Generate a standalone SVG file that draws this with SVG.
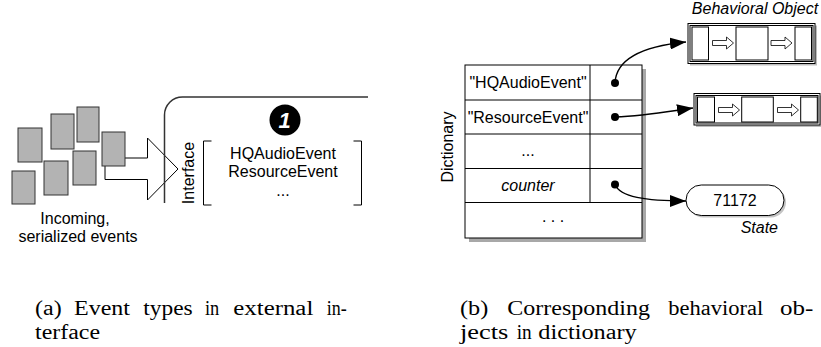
<svg xmlns="http://www.w3.org/2000/svg" width="821" height="347" viewBox="0 0 821 347">
<style>
text{font-family:"Liberation Sans",Arial,sans-serif;font-size:16px;fill:#000}
.it{font-style:italic}
.mid{text-anchor:middle}
.end{text-anchor:end}
.cap{font-family:"Liberation Serif","Times New Roman",serif;font-size:20.5px}
.ev{fill:#b3b3b3;stroke:#333;stroke-width:1}
.ln{fill:none;stroke:#000;stroke-width:1}
.cell{fill:#fff;stroke:#000;stroke-width:1}
.shadow{fill:#a8a8a8}
.soft{fill:#bdbdbd}
.conn{fill:none;stroke:#000;stroke-width:1.3}
.dot{fill:#000}
</style>
<defs>
<marker id="ah" markerUnits="userSpaceOnUse" markerWidth="17" markerHeight="12" refX="16" refY="6" orient="auto">
<path d="M0,0 L16,6 L0,12 z" fill="#000"/>
</marker>
<path id="hollow" d="M0,-2.5 H14 V-6 L21,0 L14,6 V2.5 H0 Z" fill="#fff" stroke="#000" stroke-width="0.8"/>
</defs>

<!-- (a) incoming serialized events -->
<g id="events">
<rect class="ev" x="18" y="128" width="24" height="34"/>
<rect class="ev" x="12" y="171" width="23" height="33"/>
<rect class="ev" x="51" y="114" width="23" height="35"/>
<rect class="ev" x="77" y="107" width="22" height="35"/>
<rect class="ev" x="44" y="161" width="24" height="34"/>
<rect class="ev" x="73" y="151" width="23" height="34"/>
<path d="M105,158 H147.5 V138 L178,169 L147.5,200 V179.5 H105 Z" fill="#fff" stroke="#000" stroke-width="1"/>
<rect class="ev" x="102" y="132" width="23" height="34"/>
<text class="mid" x="75" y="224">Incoming,</text>
<text class="mid" x="78" y="242">serialized events</text>
</g>

<!-- (a) component with its external interface -->
<g id="interface">
<path d="M164.5,203 V115 A18,18 0 0 1 182.5,97 H368" fill="none" stroke="#333" stroke-width="1.5"/>
<text class="mid" transform="translate(194,173) rotate(-90)">Interface</text>
<path class="ln" d="M211.5,141 H203.5 V205 H211.5 M353.5,141 H361.5 V205 H353.5" stroke-width="1.4"/>
<circle cx="285" cy="120" r="15.5" fill="#000"/>
<text class="mid" x="284.5" y="128" style="fill:#fff;font-weight:bold;font-style:italic;font-size:22px">1</text>
<text class="mid" x="283" y="159">HQAudioEvent</text>
<text class="mid" x="283" y="177">ResourceEvent</text>
<text class="mid" x="283" y="196">...</text>
</g>

<!-- (b) dictionary table -->
<g id="dictionary">
<text class="mid" transform="translate(453,147) rotate(-90)">Dictionary</text>
<rect class="shadow" x="469" y="69" width="177" height="173"/>
<rect class="cell" x="465" y="65" width="177" height="173"/>
<path class="ln" d="M465,100 H642 M465,134 H642 M465,168.5 H642 M465,202.5 H642 M590,65 V202.5"/>
<text class="mid" x="528" y="88">"HQAudioEvent"</text>
<text class="mid" x="528" y="122.5">"ResourceEvent"</text>
<text class="mid" x="528" y="156">...</text>
<text class="mid it" x="528" y="191">counter</text>
<text class="mid" x="553" y="222">. . .</text>
<circle class="dot" cx="615" cy="83" r="4"/>
<circle class="dot" cx="615" cy="117" r="4"/>
<circle class="dot" cx="615" cy="184.5" r="4"/>
</g>

<!-- (b) behavioral objects -->
<g id="behavior1">
<text class="mid it" x="755" y="14">Behavioral Object</text>
<rect class="soft" x="690" y="25.5" width="127" height="40"/>
<rect class="cell" x="688" y="23.5" width="127" height="40"/>
<rect class="ln" x="690" y="25.5" width="123" height="36" stroke-width="0.6"/>
<rect class="cell" x="692" y="27" width="16.5" height="33"/>
<rect class="cell" x="736" y="27" width="32" height="33"/>
<rect class="cell" x="795" y="27" width="16.5" height="33"/>
<use href="#hollow" x="712.5" y="43"/>
<use href="#hollow" x="771" y="43"/>
</g>

<g id="behavior2">
<rect class="soft" x="696" y="95.5" width="126" height="31.5"/>
<rect class="cell" x="694" y="93.5" width="126" height="31.5"/>
<rect class="ln" x="696" y="95.5" width="122" height="27.5" stroke-width="0.6"/>
<rect class="cell" x="697.5" y="97" width="17" height="25"/>
<rect class="cell" x="741.7" y="97" width="31.6" height="25"/>
<rect class="cell" x="800.7" y="97" width="16.6" height="25"/>
<use href="#hollow" x="718.5" y="110"/>
<use href="#hollow" x="777.5" y="110"/>
</g>

<!-- (b) state value -->
<g id="state">
<rect x="688" y="187" width="98" height="30.5" rx="15.25" fill="#c4c4c4"/>
<rect x="686" y="185" width="98" height="30.5" rx="15.25" fill="#fff" stroke="#000" stroke-width="1"/>
<text class="mid" x="735" y="205.5">71172</text>
<text class="end it" x="778" y="233">State</text>
</g>

<!-- references from dictionary entries -->
<g id="connectors">
<path class="conn" d="M615,83 C616,62 635,47 686,42" marker-end="url(#ah)"/>
<path class="conn" d="M615,117 C645,116 665,112 693,108" marker-end="url(#ah)"/>
<path class="conn" d="M615,184.5 C620,197 645,201 686,201" marker-end="url(#ah)"/>
</g>

<!-- sub-figure captions -->
<g id="captions">
<text class="cap" x="35" y="314.5" textLength="26.7" lengthAdjust="spacingAndGlyphs">(a)</text>
<text class="cap" x="74" y="314.5" textLength="56" lengthAdjust="spacingAndGlyphs">Event</text>
<text class="cap" x="143.3" y="314.5" textLength="49.4" lengthAdjust="spacingAndGlyphs">types</text>
<text class="cap" x="205" y="314.5" textLength="14.3" lengthAdjust="spacingAndGlyphs">in</text>
<text class="cap" x="233.3" y="314.5" textLength="80" lengthAdjust="spacingAndGlyphs">external</text>
<text class="cap" x="326.7" y="314.5" textLength="20" lengthAdjust="spacingAndGlyphs">in-</text>
<text class="cap" x="35" y="338.5" textLength="65" lengthAdjust="spacingAndGlyphs">terface</text>
<text class="cap" x="460" y="314.5" textLength="28.3" lengthAdjust="spacingAndGlyphs">(b)</text>
<text class="cap" x="507.3" y="314.5" textLength="142.7" lengthAdjust="spacingAndGlyphs">Corresponding</text>
<text class="cap" x="668.3" y="314.5" textLength="95" lengthAdjust="spacingAndGlyphs">behavioral</text>
<text class="cap" x="780" y="314.5" textLength="33.3" lengthAdjust="spacingAndGlyphs">ob-</text>
<text class="cap" x="460" y="338.5" textLength="48.3" lengthAdjust="spacingAndGlyphs">jects</text>
<text class="cap" x="516.7" y="338.5" textLength="15" lengthAdjust="spacingAndGlyphs">in</text>
<text class="cap" x="538.3" y="338.5" textLength="98.4" lengthAdjust="spacingAndGlyphs">dictionary</text>
</g>
</svg>
